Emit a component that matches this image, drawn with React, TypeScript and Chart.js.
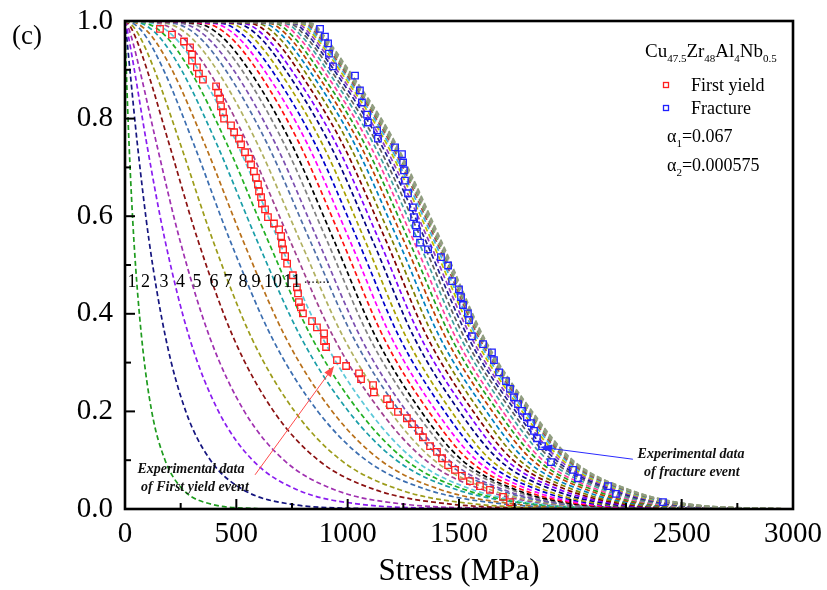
import React, { useEffect, useRef } from "react";
import { Chart, registerables } from "chart.js";

Chart.register(...registerables);

// Survival-probability levels shared by all curves (y values)
const LEVELS = [1, 0.995, 0.97, 0.9, 0.75, 0.55, 0.35, 0.2, 0.1, 0.04, 0.01, 0];

// Stress (MPa) at which each curve reaches the levels above
const C01 = [0, 0.2, 1.5, 5.9, 18, 40, 75, 120, 180, 260, 387, 616];
const C02 = [0, 1.4, 7.1, 22, 55, 108, 183, 273, 384, 529, 743, 1114];
const C03 = [0, 3.7, 15, 42, 97, 180, 290, 420, 573, 770, 1052, 1532];
const C04 = [0, 7.6, 27, 66, 141, 247, 382, 536, 714, 938, 1251, 1776];
const C05 = [0, 15, 44, 99, 197, 328, 488, 668, 868, 1120, 1463, 2030];
const C06 = [0, 24, 64, 132, 247, 395, 569, 762, 970, 1230, 1577, 2146];
const C07 = [0, 38, 91, 173, 307, 472, 661, 866, 1083, 1354, 1708, 2283];
const C08 = [0, 54, 118, 211, 356, 530, 723, 931, 1147, 1415, 1758, 2315];
const C09 = [0, 75, 149, 253, 410, 593, 792, 1004, 1219, 1488, 1825, 2371];
const C10 = [0, 98, 181, 291, 456, 642, 840, 1051, 1261, 1524, 1849, 2374];
const C11 = [0, 124, 215, 330, 502, 690, 888, 1097, 1302, 1559, 1873, 2379];
const C12 = [0, 154, 251, 372, 549, 741, 939, 1148, 1350, 1604, 1911, 2406];
const C13 = [0, 186, 288, 412, 593, 786, 983, 1190, 1388, 1638, 1936, 2418];
const C14 = [0, 220, 325, 451, 637, 831, 1027, 1234, 1429, 1676, 1968, 2441];
const C15 = [0, 254, 360, 487, 674, 867, 1060, 1264, 1455, 1698, 1981, 2442];
const C16 = [0, 289, 396, 524, 713, 907, 1099, 1303, 1490, 1732, 2010, 2464];
const C17 = [0, 324, 429, 556, 746, 939, 1129, 1330, 1514, 1752, 2025, 2470];
const C18 = [0, 361, 465, 592, 782, 975, 1163, 1364, 1545, 1781, 2050, 2489];
const C19 = [0, 396, 499, 624, 817, 1010, 1198, 1398, 1579, 1814, 2081, 2517];
const C20 = [0, 433, 533, 658, 852, 1046, 1234, 1435, 1614, 1850, 2115, 2550];
const C21 = [0, 468, 565, 689, 884, 1078, 1265, 1466, 1644, 1880, 2143, 2576];
const C22 = [0, 502, 597, 720, 917, 1112, 1300, 1502, 1681, 1917, 2181, 2615];
const C23 = [0, 533, 625, 747, 946, 1142, 1330, 1534, 1712, 1950, 2213, 2648];
const C24 = [0, 565, 654, 776, 975, 1172, 1360, 1564, 1743, 1981, 2244, 2680];
const C25 = [0, 596, 682, 802, 1003, 1200, 1389, 1594, 1772, 2011, 2275, 2711];
const C26 = [0, 624, 707, 826, 1029, 1227, 1416, 1623, 1801, 2042, 2306, 2745];
const C27 = [0, 649, 730, 848, 1052, 1252, 1442, 1650, 1830, 2072, 2337, 2778];
const C28 = [0, 674, 751, 869, 1074, 1275, 1466, 1675, 1855, 2098, 2364, 2807];
const C29 = [0, 698, 773, 889, 1095, 1296, 1487, 1696, 1876, 2121, 2386, 2830];
const C30 = [0, 720, 791, 907, 1114, 1316, 1508, 1718, 1899, 2144, 2411, 2857];
const C31 = [0, 738, 808, 923, 1131, 1334, 1526, 1738, 1919, 2166, 2434, 2881];
const C32 = [0, 756, 823, 938, 1147, 1350, 1543, 1755, 1936, 2184, 2452, 2901];
const C33 = [0, 771, 837, 951, 1160, 1364, 1557, 1770, 1952, 2200, 2469, 2920];
const C34 = [0, 786, 849, 963, 1173, 1377, 1571, 1784, 1966, 2215, 2484, 2936];
const C35 = [0, 797, 859, 973, 1183, 1388, 1582, 1796, 1979, 2229, 2499, 2951];
const C36 = [0, 808, 868, 981, 1192, 1397, 1591, 1806, 1988, 2239, 2509, 2962];
const C37 = [0, 818, 877, 989, 1200, 1405, 1599, 1814, 1997, 2247, 2518, 2971];
const C38 = [0, 825, 883, 995, 1206, 1411, 1605, 1820, 2003, 2254, 2524, 2978];
const C39 = [0, 832, 889, 1000, 1211, 1416, 1610, 1825, 2008, 2259, 2529, 2983];
const C40 = [0, 838, 894, 1004, 1215, 1420, 1614, 1829, 2011, 2262, 2532, 2985];

const CURVES = [C01, C02, C03, C04, C05, C06, C07, C08, C09, C10, C11, C12, C13, C14, C15, C16, C17, C18, C19, C20,
  C21, C22, C23, C24, C25, C26, C27, C28, C29, C30, C31, C32, C33, C34, C35, C36, C37, C38, C39, C40];

const CURVE_COLORS = ["#1E9B1E", "#15157F", "#8A1CF0", "#A030B0", "#8B1111", "#9C9C1A", "#3C6EB0", "#B8701A", "#1A9EA8", "#22B022",
  "#5CC8D8", "#A04090", "#B0B060", "#4F6FA8", "#7B4FB0", "#808080", "#000000", "#FF1010", "#FF00FF", "#0000CC",
  "#A8A000", "#000080", "#8000FF", "#800000", "#808000", "#0080C0", "#C04000", "#20A020", "#FF40A0", "#40A0A0",
  "#606060", "#202090", "#9040C0", "#C0C000", "#40B0E0", "#A05050", "#70A050", "#909090", "#A0A080", "#8E9E80"];

// Experimental data: first yield event
const YIELD_X = [157, 211, 265, 292, 301, 301, 323, 332, 350, 409, 418, 427, 431, 440, 445, 476, 490, 512, 521, 539, 557, 566,
  579, 588, 597, 602, 611, 615, 629, 642, 669, 692, 701, 705, 710, 719, 728, 754, 772, 777, 781, 790, 799, 840, 862, 894,
  894, 903, 952, 993, 1051, 1060, 1114, 1118, 1177, 1190, 1226, 1266, 1289, 1320, 1338, 1370, 1401, 1424, 1451, 1482,
  1513, 1549, 1594, 1639, 1698, 1729];
const YIELD_Y = [0.984, 0.972, 0.958, 0.946, 0.931, 0.919, 0.905, 0.892, 0.88, 0.866, 0.853, 0.841, 0.825, 0.813, 0.8, 0.786,
  0.772, 0.759, 0.747, 0.731, 0.718, 0.706, 0.692, 0.679, 0.665, 0.651, 0.639, 0.626, 0.614, 0.598, 0.585, 0.573, 0.559,
  0.544, 0.532, 0.518, 0.503, 0.479, 0.454, 0.442, 0.424, 0.413, 0.401, 0.385, 0.372, 0.36, 0.344, 0.332, 0.305, 0.293,
  0.278, 0.266, 0.254, 0.239, 0.225, 0.213, 0.199, 0.186, 0.174, 0.16, 0.147, 0.129, 0.117, 0.104, 0.09, 0.08, 0.068,
  0.057, 0.047, 0.039, 0.025, 0.014];

// Experimental data: fracture event
const FRACT_X = [876, 898, 912, 916, 934, 1033, 1055, 1064, 1087, 1091, 1132, 1136, 1213, 1244, 1249, 1253, 1257, 1271, 1293,
  1298, 1307, 1311, 1325, 1361, 1419, 1451, 1469, 1500, 1509, 1518, 1540, 1545, 1558, 1608, 1648, 1657, 1680, 1711, 1729,
  1747, 1765, 1783, 1805, 1823, 1837, 1850, 1873, 1913, 2012, 2034, 2169, 2205, 2416];
const FRACT_Y = [0.984, 0.968, 0.954, 0.933, 0.907, 0.888, 0.858, 0.833, 0.808, 0.792, 0.776, 0.759, 0.741, 0.727, 0.71,
  0.694, 0.673, 0.647, 0.618, 0.598, 0.581, 0.565, 0.546, 0.532, 0.516, 0.499, 0.467, 0.45, 0.434, 0.418, 0.401, 0.387,
  0.354, 0.338, 0.321, 0.305, 0.28, 0.262, 0.246, 0.229, 0.215, 0.201, 0.188, 0.176, 0.16, 0.145, 0.129, 0.096, 0.08,
  0.063, 0.047, 0.031, 0.014];

// Curve numbering labels (stress position of each number, common level)
const NUM_LABELS = ["1", "2", "3", "4", "5", "6", "7", "8", "9", "10", "11"];
const NUM_LABEL_X = [31, 92, 175, 249, 323, 400, 463, 530, 588, 665, 750];
const NUM_LABEL_Y = 0.465;

const SERIF = "'Liberation Serif', 'Times New Roman', Times, serif";

function drawArrow(ctx: CanvasRenderingContext2D, x1: number, y1: number, x2: number, y2: number, color: string, len: number, half: number) {
  const ang = Math.atan2(y2 - y1, x2 - x1);
  ctx.strokeStyle = color;
  ctx.fillStyle = color;
  ctx.lineWidth = 1;
  ctx.setLineDash([]);
  ctx.beginPath();
  ctx.moveTo(x1, y1);
  ctx.lineTo(x2 - Math.cos(ang) * len * 0.8, y2 - Math.sin(ang) * len * 0.8);
  ctx.stroke();
  ctx.beginPath();
  ctx.moveTo(x2, y2);
  ctx.lineTo(x2 - Math.cos(ang) * len - Math.sin(ang) * half, y2 - Math.sin(ang) * len + Math.cos(ang) * half);
  ctx.lineTo(x2 - Math.cos(ang) * len + Math.sin(ang) * half, y2 - Math.sin(ang) * len - Math.cos(ang) * half);
  ctx.closePath();
  ctx.fill();
}

type Part = { t: string; sub?: boolean };
function rich(ctx: CanvasRenderingContext2D, parts: Part[], x: number, y: number, size: number, subSize: number, subDy: number) {
  let cx = x;
  for (const p of parts) {
    ctx.font = `${p.sub ? subSize : size}px ${SERIF}`;
    ctx.fillText(p.t, cx, p.sub ? y + subDy : y);
    cx += ctx.measureText(p.t).width;
  }
}

const decor = {
  id: "decor",
  afterDatasetsDraw(chart: any) {
    const { ctx, chartArea: a, scales } = chart;
    const xs = scales.x;
    const ys = scales.y;
    ctx.save();
    ctx.setLineDash([]);
    ctx.strokeStyle = "#000";
    ctx.lineWidth = 2;
    for (let v = 0; v <= 3000; v += 250) {
      const px = xs.getPixelForValue(v);
      const len = v % 500 === 0 ? 10 : 6;
      ctx.beginPath();
      ctx.moveTo(px, a.bottom);
      ctx.lineTo(px, a.bottom - len);
      ctx.stroke();
    }
    for (let i = 0; i <= 10; i++) {
      const py = ys.getPixelForValue(i / 10);
      const len = i % 2 === 0 ? 10 : 6;
      ctx.beginPath();
      ctx.moveTo(a.left, py);
      ctx.lineTo(a.left + len, py);
      ctx.stroke();
    }
    ctx.lineWidth = 2.6;
    ctx.strokeRect(a.left, a.top, a.right - a.left, a.bottom - a.top);

    // curve numbers
    ctx.fillStyle = "#000";
    ctx.font = `18px ${SERIF}`;
    ctx.textAlign = "center";
    ctx.textBaseline = "middle";
    const ly = ys.getPixelForValue(NUM_LABEL_Y);
    NUM_LABELS.forEach((t, i) => ctx.fillText(t, xs.getPixelForValue(NUM_LABEL_X[i]), ly));
    ctx.setLineDash([1.5, 2.2]);
    ctx.lineWidth = 1.2;
    ctx.beginPath();
    ctx.moveTo(xs.getPixelForValue(808), ly);
    ctx.lineTo(xs.getPixelForValue(921), ly);
    ctx.stroke();
    ctx.setLineDash([]);

    // arrows
    drawArrow(ctx, xs.getPixelForValue(584), ys.getPixelForValue(0.07), xs.getPixelForValue(939), ys.getPixelForValue(0.293), "#FF4A4A", 11, 4);
    drawArrow(ctx, xs.getPixelForValue(2281), ys.getPixelForValue(0.102), xs.getPixelForValue(1864), ys.getPixelForValue(0.127), "#2A2AFF", 12, 4);

    // annotation text
    ctx.fillStyle = "#111";
    ctx.font = `italic bold 14px ${SERIF}`;
    ctx.fillText("Experimental data", xs.getPixelForValue(296), ys.getPixelForValue(0.082));
    ctx.fillText("of First yield event", xs.getPixelForValue(314), ys.getPixelForValue(0.045));
    ctx.fillText("Experimental data", xs.getPixelForValue(2542), ys.getPixelForValue(0.111));
    ctx.fillText("of fracture event", xs.getPixelForValue(2546), ys.getPixelForValue(0.074));

    // legend block
    ctx.textAlign = "left";
    ctx.textBaseline = "alphabetic";
    ctx.fillStyle = "#000";
    rich(ctx, [{ t: "Cu" }, { t: "47.5", sub: true }, { t: "Zr" }, { t: "48", sub: true }, { t: "Al" }, { t: "4", sub: true }, { t: "Nb" }, { t: "0.5", sub: true }], 645, 57, 19, 11, 5);
    ctx.lineWidth = 1.3;
    ctx.strokeStyle = "#FF2020";
    ctx.strokeRect(663.5, 82.5, 5, 5);
    ctx.strokeStyle = "#2020FF";
    ctx.strokeRect(663.5, 105.5, 5, 5);
    ctx.font = `18px ${SERIF}`;
    ctx.fillText("First yield", 691, 91);
    ctx.fillText("Fracture", 691, 114);
    rich(ctx, [{ t: "\u03b1" }, { t: "1", sub: true }, { t: "=0.067" }], 667, 142, 18, 11, 5);
    rich(ctx, [{ t: "\u03b1" }, { t: "2", sub: true }, { t: "=0.000575" }], 667, 171, 18, 11, 5);

    // panel tag
    ctx.font = `27px ${SERIF}`;
    ctx.fillText("(c)", 12, 44);
    ctx.restore();
  },
};

export default function App() {
  const ref = useRef<HTMLCanvasElement | null>(null);
  useEffect(() => {
    const canvas = ref.current;
    if (!canvas) return;
    const curveSets = CURVES.map((xsArr, k) => ({
      label: `n=${k + 1}`,
      data: xsArr.map((x, i) => ({ x, y: LEVELS[i] })),
      borderColor: CURVE_COLORS[k],
      borderWidth: 1.7,
      borderDash: [5, 3],
      pointRadius: 0,
      fill: false,
      cubicInterpolationMode: "monotone" as const,
      order: 100 - k,
    }));
    const yieldSet = {
      label: "First yield",
      data: YIELD_X.map((x, i) => ({ x, y: YIELD_Y[i] })),
      showLine: false,
      pointStyle: "rect" as const,
      pointRadius: 4.6,
      pointBorderWidth: 1.3,
      borderColor: "#FF2020",
      pointBorderColor: "#FF2020",
      pointBackgroundColor: "rgba(255,255,255,0)",
      order: 1,
    };
    const fractSet = {
      label: "Fracture",
      data: FRACT_X.map((x, i) => ({ x, y: FRACT_Y[i] })),
      showLine: false,
      pointStyle: "rect" as const,
      pointRadius: 4.6,
      pointBorderWidth: 1.3,
      borderColor: "#2020FF",
      pointBorderColor: "#2020FF",
      pointBackgroundColor: "rgba(255,255,255,0)",
      order: 0,
    };
    const tickFont = { family: SERIF, size: 29 };
    const chart = new Chart(canvas, {
      type: "line",
      data: { datasets: [...curveSets, yieldSet, fractSet] as any },
      options: {
        animation: false,
        responsive: false,
        devicePixelRatio: 1,
        events: [],
        layout: { padding: { top: 21, right: 34, left: 0, bottom: 0 } },
        plugins: { legend: { display: false }, tooltip: { enabled: false } },
        scales: {
          x: {
            type: "linear",
            min: 0,
            max: 3000,
            ticks: { stepSize: 500, color: "#000", font: tickFont, padding: 8, maxRotation: 0, callback: (v: any) => String(v) },
            grid: { display: false, drawTicks: false },
            border: { display: false },
            title: { display: true, text: "Stress (MPa)", color: "#000", font: { family: SERIF, size: 31 }, padding: { top: 0, bottom: 0 } },
            afterFit: (s: any) => { s.height = 81; s.paddingLeft = 0; s.paddingRight = 0; },
          },
          y: {
            type: "linear",
            min: 0,
            max: 1,
            ticks: { stepSize: 0.2, color: "#000", font: tickFont, padding: 12, callback: (v: any) => Number(v).toFixed(1) },
            grid: { display: false, drawTicks: false },
            border: { display: false },
            afterFit: (s: any) => { s.width = 125; s.paddingTop = 0; s.paddingBottom = 0; },
          },
        },
      },
      plugins: [decor],
    });
    return () => chart.destroy();
  }, []);
  return (
    <div style={{ position: "fixed", left: 0, top: 0, width: 827, height: 590, background: "#fff" }}>
      <canvas ref={ref} width={827} height={590} style={{ display: "block" }} />
    </div>
  );
}
